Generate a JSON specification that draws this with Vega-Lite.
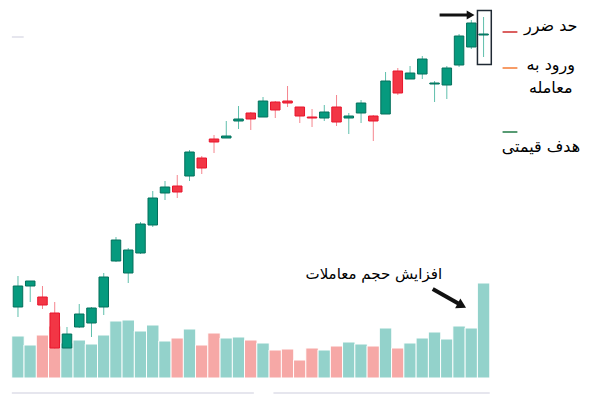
{
  "$schema": "https://vega.github.io/schema/vega-lite/v6.json",
  "width": 600,
  "height": 395,
  "padding": 0,
  "autosize": {"type": "fit", "contains": "padding"},
  "background": "white",
  "config": {"view": {"stroke": null}},
  "datasets": {
    "candles": [
      {"i": 0, "o": 73.25, "h": 81, "l": 70.75, "c": 78.5, "v": 42},
      {"i": 1, "o": 78.5, "h": 79.75, "l": 74.5, "c": 79.75, "v": 33},
      {"i": 2, "o": 75.75, "h": 78.5, "l": 72.75, "c": 73.75, "v": 43},
      {"i": 3, "o": 71.75, "h": 74.5, "l": 62.75, "c": 63, "v": 52},
      {"i": 4, "o": 63, "h": 68.25, "l": 63, "c": 66.5, "v": 35},
      {"i": 5, "o": 68.25, "h": 74, "l": 68, "c": 71.5, "v": 38},
      {"i": 6, "o": 69.25, "h": 73.25, "l": 65.75, "c": 73, "v": 34},
      {"i": 7, "o": 73.25, "h": 81.75, "l": 71.25, "c": 80.75, "v": 43},
      {"i": 8, "o": 84.75, "h": 90.75, "l": 84.5, "c": 90, "v": 57},
      {"i": 9, "o": 81.75, "h": 88, "l": 79.25, "c": 87.5, "v": 58},
      {"i": 10, "o": 86.75, "h": 94.5, "l": 86.5, "c": 94, "v": 47},
      {"i": 11, "o": 93.75, "h": 102.25, "l": 93.25, "c": 100.5, "v": 53},
      {"i": 12, "o": 101.75, "h": 104.75, "l": 100, "c": 103.25, "v": 37},
      {"i": 13, "o": 103.5, "h": 106.25, "l": 100.5, "c": 102, "v": 40},
      {"i": 14, "o": 106, "h": 112.5, "l": 104.75, "c": 112, "v": 49},
      {"i": 15, "o": 110.5, "h": 111, "l": 106.5, "c": 108, "v": 33},
      {"i": 16, "o": 115.25, "h": 116.25, "l": 111.75, "c": 114.5, "v": 45},
      {"i": 17, "o": 115.5, "h": 119.75, "l": 115.5, "c": 116, "v": 40},
      {"i": 18, "o": 119.75, "h": 123.5, "l": 117.75, "c": 120.25, "v": 41},
      {"i": 19, "o": 121.75, "h": 122, "l": 117.5, "c": 120.25, "v": 38},
      {"i": 20, "o": 120.75, "h": 125.75, "l": 120.75, "c": 124.75, "v": 35},
      {"i": 21, "o": 124.5, "h": 124.75, "l": 120.5, "c": 122.5, "v": 28},
      {"i": 22, "o": 124.75, "h": 128.5, "l": 123.25, "c": 124.25, "v": 29},
      {"i": 23, "o": 123.25, "h": 123.25, "l": 119.25, "c": 121, "v": 18},
      {"i": 24, "o": 120.75, "h": 122.75, "l": 118.25, "c": 120.5, "v": 30},
      {"i": 25, "o": 120.5, "h": 123.75, "l": 119.75, "c": 122, "v": 28},
      {"i": 26, "o": 123.25, "h": 126.25, "l": 118.5, "c": 119.5, "v": 32},
      {"i": 27, "o": 120.5, "h": 121.75, "l": 116.5, "c": 121, "v": 36},
      {"i": 28, "o": 121.75, "h": 125, "l": 119.25, "c": 124.25, "v": 34},
      {"i": 29, "o": 121, "h": 121.25, "l": 114.75, "c": 119.75, "v": 32},
      {"i": 30, "o": 121.5, "h": 132, "l": 121.5, "c": 129.75, "v": 50},
      {"i": 31, "o": 132.25, "h": 133, "l": 126.25, "c": 126.75, "v": 30},
      {"i": 32, "o": 130.25, "h": 133.5, "l": 130.25, "c": 131.75, "v": 35},
      {"i": 33, "o": 131.5, "h": 136, "l": 130.25, "c": 135.25, "v": 40},
      {"i": 34, "o": 129, "h": 129.75, "l": 124.5, "c": 129.25, "v": 46},
      {"i": 35, "o": 128.75, "h": 133.5, "l": 125.25, "c": 133, "v": 39},
      {"i": 36, "o": 133.75, "h": 141.5, "l": 133.25, "c": 141, "v": 52},
      {"i": 37, "o": 138.25, "h": 145, "l": 137.75, "c": 144.25, "v": 50},
      {"i": 38, "o": 141.25, "h": 145.75, "l": 135.75, "c": 141.5, "v": 95}
    ],
    "lines": [
      {"k": "scroll", "i": -0.5, "i2": 19.25, "p": 51.75, "p2": 51.75},
      {"k": "scroll", "i": 20.85, "i2": 38.5, "p": 51.75, "p2": 51.75},
      {"k": "scroll", "i": -0.5, "i2": 0.465, "p": 140.75, "p2": 140.75},
      {"k": "stop", "i": 39.55, "i2": 40.76, "p": 142, "p2": 142},
      {"k": "entry", "i": 39.55, "i2": 40.76, "p": 133, "p2": 133},
      {"k": "target", "i": 39.55, "i2": 40.76, "p": 117, "p2": 117},
      {"k": "arrow1", "i": 34.41, "i2": 36.82, "p": 146.25, "p2": 146.25},
      {"k": "arrow2", "i": 33.85, "i2": 36.23, "p": 77.75, "p2": 73.6}
    ],
    "heads": [
      {"k": "arrow1", "i": 36.94, "p": 146.25},
      {"k": "arrow2", "i": 36.23, "p": 73.6}
    ],
    "box": [
      {"i": 37.5, "i2": 38.63, "p": 147.375, "p2": 133.875}
    ],
    "notes": [
      {"g": "legend", "t": "حد ضرر", "i": 43.48, "p": 142.25},
      {"g": "legend", "t": "ورود به", "i": 43.48, "p": 132.5},
      {"g": "legend", "t": "معامله", "i": 43.48, "p": 126.75},
      {"g": "legend", "t": "هدف قیمتی", "i": 42.68, "p": 112},
      {"g": "note", "t": "افزایش حجم معاملات", "i": 29.04, "p": 80.25}
    ]
  },
  "layer": [
    {
      "data": {"name": "candles"},
      "mark": {"type": "bar", "size": 12.46, "stroke": "white", "strokeWidth": 1},
      "encoding": {
        "x": {"field": "i", "type": "quantitative", "scale": {"domain": [-1.059, 47.094], "nice": false, "zero": false}, "axis": null},
        "y": {"field": "v", "type": "quantitative", "scale": {"domain": [-17, 378], "nice": false, "zero": false}, "axis": null},
        "y2": {"datum": 0},
        "color": {"condition": {"test": "datum.c >= datum.o", "value": "#93d2cb"}, "value": "#f6a8a6"}
      }
    },
    {
      "data": {"name": "candles"},
      "mark": {"type": "rule", "strokeWidth": 1},
      "encoding": {
        "x": {"field": "i", "type": "quantitative", "scale": {"domain": [-1.059, 47.094], "nice": false, "zero": false}, "axis": null},
        "y": {"field": "l", "type": "quantitative", "scale": {"domain": [51.25, 150], "nice": false, "zero": false}, "axis": null},
        "y2": {"field": "h"},
        "color": {"condition": {"test": "datum.c >= datum.o", "value": "#5fbfac"}, "value": "#f5858e"}
      }
    },
    {
      "data": {"name": "candles"},
      "mark": {"type": "bar", "size": 9.5, "strokeWidth": 1},
      "encoding": {
        "x": {"field": "i", "type": "quantitative", "scale": {"domain": [-1.059, 47.094], "nice": false, "zero": false}, "axis": null},
        "y": {"field": "o", "type": "quantitative", "scale": {"domain": [51.25, 150], "nice": false, "zero": false}, "axis": null},
        "y2": {"field": "c"},
        "fill": {"condition": {"test": "datum.c >= datum.o", "value": "#069a7e"}, "value": "#f23645"},
        "stroke": {"condition": {"test": "datum.c >= datum.o", "value": "#04705c"}, "value": "#e8142c"}
      }
    },
    {
      "data": {"name": "lines"},
      "transform": [{"filter": "datum.k == 'scroll'"}],
      "mark": {"type": "rule", "strokeWidth": 2, "color": "#e6e6ee"},
      "encoding": {
        "x": {"field": "i", "type": "quantitative", "scale": {"domain": [-1.059, 47.094], "nice": false, "zero": false}, "axis": null},
        "x2": {"field": "i2"},
        "y": {"field": "p", "type": "quantitative", "scale": {"domain": [51.25, 150], "nice": false, "zero": false}, "axis": null},
        "y2": {"field": "p2"}
      }
    },
    {
      "data": {"name": "lines"},
      "transform": [{"filter": "datum.k == 'stop' || datum.k == 'entry' || datum.k == 'target'"}],
      "mark": {"type": "rule", "strokeWidth": 1.5},
      "encoding": {
        "x": {"field": "i", "type": "quantitative", "scale": {"domain": [-1.059, 47.094], "nice": false, "zero": false}, "axis": null},
        "x2": {"field": "i2"},
        "y": {"field": "p", "type": "quantitative", "scale": {"domain": [51.25, 150], "nice": false, "zero": false}, "axis": null},
        "y2": {"field": "p2"},
        "color": {"field": "k", "type": "nominal", "scale": {"domain": ["stop", "entry", "target"], "range": ["#cf2b2b", "#f47b35", "#1f7a45"]}, "legend": null}
      }
    },
    {
      "data": {"name": "lines"},
      "transform": [{"filter": "datum.k == 'arrow1'"}],
      "mark": {"type": "rule", "strokeWidth": 3, "color": "#111111"},
      "encoding": {
        "x": {"field": "i", "type": "quantitative", "scale": {"domain": [-1.059, 47.094], "nice": false, "zero": false}, "axis": null},
        "x2": {"field": "i2"},
        "y": {"field": "p", "type": "quantitative", "scale": {"domain": [51.25, 150], "nice": false, "zero": false}, "axis": null},
        "y2": {"field": "p2"}
      }
    },
    {
      "data": {"name": "lines"},
      "transform": [{"filter": "datum.k == 'arrow2'"}],
      "mark": {"type": "rule", "strokeWidth": 4, "color": "#111111"},
      "encoding": {
        "x": {"field": "i", "type": "quantitative", "scale": {"domain": [-1.059, 47.094], "nice": false, "zero": false}, "axis": null},
        "x2": {"field": "i2"},
        "y": {"field": "p", "type": "quantitative", "scale": {"domain": [51.25, 150], "nice": false, "zero": false}, "axis": null},
        "y2": {"field": "p2"}
      }
    },
    {
      "data": {"name": "heads"},
      "transform": [{"filter": "datum.k == 'arrow1'"}],
      "mark": {"type": "point", "shape": "triangle-right", "filled": true, "size": 80, "color": "#111111", "opacity": 1},
      "encoding": {
        "x": {"field": "i", "type": "quantitative", "scale": {"domain": [-1.059, 47.094], "nice": false, "zero": false}, "axis": null},
        "y": {"field": "p", "type": "quantitative", "scale": {"domain": [51.25, 150], "nice": false, "zero": false}, "axis": null}
      }
    },
    {
      "data": {"name": "heads"},
      "transform": [{"filter": "datum.k == 'arrow2'"}],
      "mark": {"type": "point", "shape": "triangle-right", "filled": true, "size": 120, "angle": 28.6, "color": "#111111", "opacity": 1},
      "encoding": {
        "x": {"field": "i", "type": "quantitative", "scale": {"domain": [-1.059, 47.094], "nice": false, "zero": false}, "axis": null},
        "y": {"field": "p", "type": "quantitative", "scale": {"domain": [51.25, 150], "nice": false, "zero": false}, "axis": null}
      }
    },
    {
      "data": {"name": "box"},
      "mark": {"type": "rect", "fill": null, "filled": false, "stroke": "#1f2933", "strokeWidth": 1.5},
      "encoding": {
        "x": {"field": "i", "type": "quantitative", "scale": {"domain": [-1.059, 47.094], "nice": false, "zero": false}, "axis": null},
        "x2": {"field": "i2"},
        "y": {"field": "p", "type": "quantitative", "scale": {"domain": [51.25, 150], "nice": false, "zero": false}, "axis": null},
        "y2": {"field": "p2"}
      }
    },
    {
      "data": {"name": "notes"},
      "transform": [{"filter": "datum.g == 'legend'"}],
      "mark": {"type": "text", "font": "DejaVu Sans", "fontSize": 16, "color": "#000000", "align": "center", "baseline": "alphabetic"},
      "encoding": {
        "x": {"field": "i", "type": "quantitative", "scale": {"domain": [-1.059, 47.094], "nice": false, "zero": false}, "axis": null},
        "y": {"field": "p", "type": "quantitative", "scale": {"domain": [51.25, 150], "nice": false, "zero": false}, "axis": null},
        "text": {"field": "t"}
      }
    },
    {
      "data": {"name": "notes"},
      "transform": [{"filter": "datum.g == 'note'"}],
      "mark": {"type": "text", "font": "DejaVu Sans", "fontSize": 15, "color": "#000000", "align": "center", "baseline": "alphabetic"},
      "encoding": {
        "x": {"field": "i", "type": "quantitative", "scale": {"domain": [-1.059, 47.094], "nice": false, "zero": false}, "axis": null},
        "y": {"field": "p", "type": "quantitative", "scale": {"domain": [51.25, 150], "nice": false, "zero": false}, "axis": null},
        "text": {"field": "t"}
      }
    }
  ],
  "resolve": {"scale": {"y": "independent"}}
}
